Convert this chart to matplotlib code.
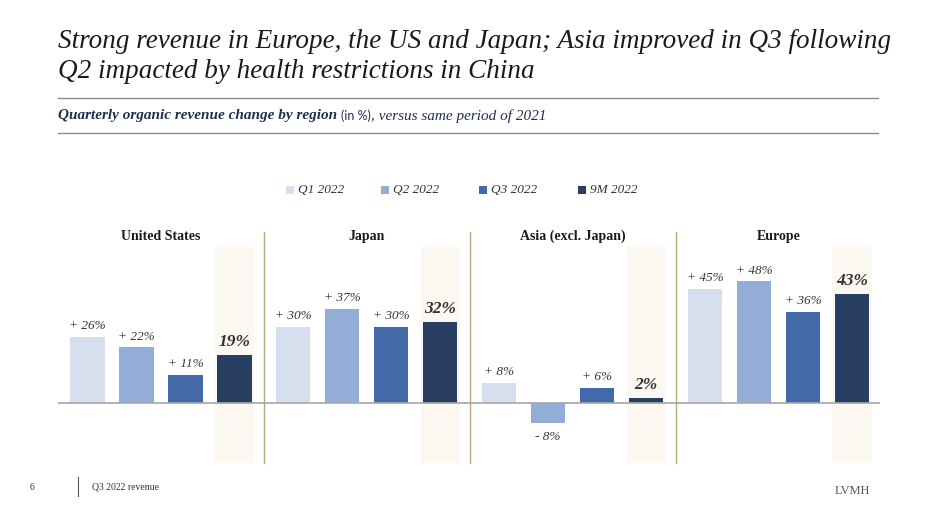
import matplotlib
matplotlib.use("Agg")
import matplotlib.pyplot as plt
from matplotlib.patches import Rectangle
from matplotlib.lines import Line2D

regions = ["United States", "Japan", "Asia (excl. Japan)", "Europe"]
series = ["Q1 2022", "Q2 2022", "Q3 2022", "9M 2022"]
values = {
    "United States": [26, 22, 11, 19],
    "Japan": [30, 37, 30, 32],
    "Asia (excl. Japan)": [8, -8, 6, 2],
    "Europe": [45, 48, 36, 43],
}
colors = ["#d6dfed", "#93aed6", "#4369a8", "#283f61"]

W, H = 930, 512
fig = plt.figure(figsize=(W / 100, H / 100), dpi=100)
SERIF = ["Liberation Serif", "DejaVu Serif"]

def fx(px):
    return px / W

def fy(py):
    return 1 - py / H

# axes spanning pixels x 58..880, y 220..470
ax_l, ax_r, ax_t, ax_b = 58, 880, 220, 470
ax = fig.add_axes([fx(ax_l), fy(ax_b), (ax_r - ax_l) / W, (ax_b - ax_t) / H])
ax.set_axis_off()
step = 49.0
x0 = 87.5
ax.set_xlim((ax_l - x0) / step, (ax_r - x0) / step)
ppu = 2.54
base = 403
ax.set_ylim((base - ax_b) / ppu, (base - ax_t) / ppu)

gsp = 4.2
bw = 0.7
band_top = (base - 247) / ppu
band_bot = (base - 463) / ppu
div_top = (base - 232) / ppu

for g, reg in enumerate(regions):
    vals = values[reg]
    gx = g * gsp
    # highlight band behind 9M bar
    ax.add_patch(Rectangle((gx + 3 - 0.4, band_bot), 0.8, band_top - band_bot,
                           facecolor="#fcf7f0", edgecolor="none", zorder=0))
    for i, v in enumerate(vals):
        x = gx + i
        ax.bar(x, v, width=bw, color=colors[i], zorder=2)
        if i < 3:
            txt = ("+ %d%%" % v) if v >= 0 else ("- %d%%" % abs(v))
            style = dict(fontsize=9.5, style="italic", color="#333333", family=SERIF)
        else:
            txt = "%d%%" % v
            style = dict(fontsize=12.5, style="italic", weight="bold", color="#333333", family=SERIF)
        if v >= 0:
            ax.text(x, v + 1.8, txt, ha="center", va="bottom", zorder=3, **style)
        else:
            ax.text(x, v - 3.0, txt, ha="center", va="top", zorder=3, **style)
    ax.text(gx + 1.5, (base - 236) / ppu, reg, ha="center", va="center",
            fontsize=10, weight="bold", color="#1a1a1a", family=SERIF)
    if g > 0:
        dx = gx - 0.6
        ax.add_line(Line2D([dx, dx], [band_bot, div_top], color="#b9a77c", lw=1.0, zorder=1))

ax.axhline(0, color="#a6a6a6", lw=1.2, zorder=3)

# Title
fig.text(fx(58), fy(42), "Strong revenue in Europe, the US and Japan; Asia improved in Q3 following",
         fontsize=19.5, style="italic", color="#1a1a1a", family=SERIF, va="center", ha="left")
fig.text(fx(58), fy(72), "Q2 impacted by health restrictions in China",
         fontsize=19.5, style="italic", color="#1a1a1a", family=SERIF, va="center", ha="left")

fig.add_artist(Line2D([fx(58), fx(878)], [fy(98), fy(98)], color="#8c8c8c", lw=1.0))
fig.add_artist(Line2D([fx(58), fx(878)], [fy(133), fy(133)], color="#8c8c8c", lw=1.0))

# Subtitle
t1 = fig.text(fx(58), fy(116), "Quarterly organic revenue change by region", fontsize=11,
              style="italic", weight="bold", color="#1f2f4f", family=SERIF, va="center")
fig.canvas.draw()
r = fig.canvas.get_renderer()
bb = t1.get_window_extent(r)
t2 = fig.text(bb.x1 / W + fx(4), fy(116), "(in %)", fontsize=9, color="#1f2f4f",
              family=["Lato", "DejaVu Sans"], va="center")
bb2 = t2.get_window_extent(r)
fig.text(bb2.x1 / W, fy(116), ", versus same period of 2021", fontsize=11,
         style="italic", color="#1f2f4f", family=SERIF, va="center")

# Legend
leg_x = [290, 385, 483, 582]
for lx, s, c in zip(leg_x, series, colors):
    fig.add_artist(Rectangle((fx(lx - 4), fy(194)), 8 / W, 8 / H, facecolor=c, edgecolor="none"))
    fig.text(fx(lx + 8), fy(190), s, fontsize=9.5, style="italic", color="#333333",
             family=SERIF, va="center")

# Footer
fig.text(fx(30), fy(487), "6", fontsize=7, color="#333333", family=SERIF, va="center")
fig.add_artist(Line2D([fx(78), fx(78)], [fy(477), fy(496)], color="#555555", lw=0.8))
fig.text(fx(92), fy(487), "Q3 2022 revenue", fontsize=7, color="#333333", family=SERIF, va="center")
fig.text(fx(870), fy(491), "LVMH", fontsize=9, color="#555555", family=SERIF, va="center", ha="right")

fig.savefig("out.png", dpi=100, facecolor="white")
